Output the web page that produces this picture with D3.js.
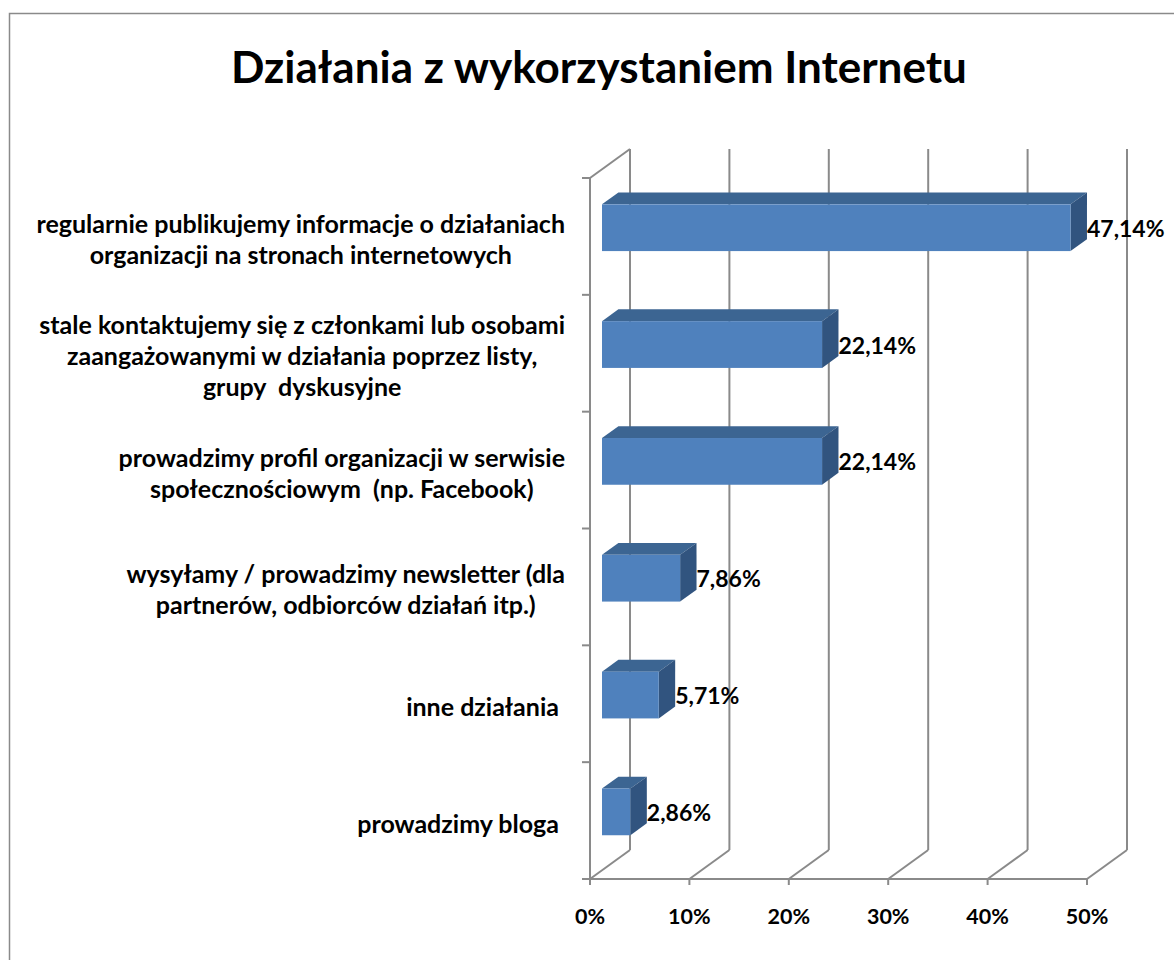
<!DOCTYPE html>
<html>
<head>
<meta charset="utf-8">
<script src="https://cdn.jsdelivr.net/npm/d3@7"></script>
<style>
  html, body { margin: 0; padding: 0; background: #fff; }
  svg { display: block; }
  text { font-family: Lato, "Open Sans", sans-serif; font-weight: bold; fill: #000; }
</style>
</head>
<body>
<svg id="chart" width="1174" height="960"></svg>
<script>
// data
const title = "Działania z wykorzystaniem Internetu";
const categories = [
  ["regularnie publikujemy informacje o działaniach", "organizacji na stronach internetowych"],
  ["stale kontaktujemy się z członkami lub osobami", "zaangażowanymi w działania poprzez listy,", "grupy  dyskusyjne"],
  ["prowadzimy profil organizacji w serwisie", "społecznościowym  (np. Facebook)"],
  ["wysyłamy / prowadzimy newsletter (dla", "partnerów, odbiorców działań itp.)"],
  ["inne działania "],
  ["prowadzimy bloga "]
];
const values = [47.14, 22.14, 22.14, 7.86, 5.71, 2.86];
const valueLabels = ["47,14%", "22,14%", "22,14%", "7,86%", "5,71%", "2,86%"];
const xTicks = [0, 10, 20, 30, 40, 50];

const svg = d3.select("#chart");

// frame of the chart area
svg.append("rect")
  .attr("x", 9.5).attr("y", 13.5)
  .attr("width", 1200).attr("height", 1000)
  .attr("fill", "none")
  .attr("stroke", "#8a8a8a")
  .attr("stroke-width", 1.5);

svg.append("text")
  .attr("x", 599).attr("y", 83)
  .attr("text-anchor", "middle")
  .style("font-size", "44px")
  .text(title);

// 3D layout: front plane and depth offset
const depthX = 40, depthY = -29;
const x = d3.scaleLinear().domain([0, 50]).range([590, 1087]);
const idx = d3.range(categories.length);
const y = d3.scaleBand().domain(idx).range([178, 879]).paddingInner(0);
const yTop = 178, yBottom = 879;
const grey = "#8a8a8a";

const grid = svg.append("g").attr("stroke", grey).attr("stroke-width", 2).attr("fill", "none");

// left wall outline
grid.append("line").attr("x1", x(0)).attr("y1", yTop).attr("x2", x(0)).attr("y2", yBottom);
grid.append("line").attr("x1", x(0)).attr("y1", yTop).attr("x2", x(0) + depthX).attr("y2", yTop + depthY);

// back wall verticals and floor diagonals
xTicks.forEach(t => {
  grid.append("line")
    .attr("x1", x(t) + depthX).attr("y1", yTop + depthY)
    .attr("x2", x(t) + depthX).attr("y2", yBottom + depthY);
  grid.append("line")
    .attr("x1", x(t)).attr("y1", yBottom)
    .attr("x2", x(t) + depthX).attr("y2", yBottom + depthY);
  grid.append("line")
    .attr("x1", x(t)).attr("y1", yBottom)
    .attr("x2", x(t)).attr("y2", yBottom + 6);
});
grid.append("line").attr("x1", x(0)).attr("y1", yBottom).attr("x2", x(50)).attr("y2", yBottom);

// category ticks on the left
d3.range(categories.length + 1).forEach(i => {
  const yy = yTop + i * y.bandwidth();
  grid.append("line").attr("x1", x(0) - 8).attr("y1", yy).attr("x2", x(0)).attr("y2", yy);
});

// bars
const d0 = 0.3, d1 = 0.71;
const barH = y.bandwidth() * 0.4;
const bars = svg.append("g");
values.forEach((v, i) => {
  const x0 = x(0) + depthX * d0, x1 = x(v) + depthX * d0;
  const yc = y(i) + y.bandwidth() / 2 + depthY * d0;
  const y0 = yc - barH / 2, y1 = yc + barH / 2;
  const ddx = depthX * (d1 - d0), ddy = depthY * (d1 - d0);
  bars.append("polygon")
    .attr("points", [[x0, y0], [x1, y0], [x1 + ddx, y0 + ddy], [x0 + ddx, y0 + ddy]].join(" "))
    .attr("fill", "#3c6592");
  bars.append("polygon")
    .attr("points", [[x1, y0], [x1 + ddx, y0 + ddy], [x1 + ddx, y1 + ddy], [x1, y1]].join(" "))
    .attr("fill", "#31547f");
  bars.append("rect")
    .attr("x", x0).attr("y", y0)
    .attr("width", x1 - x0).attr("height", barH)
    .attr("fill", "#4f81bd");
  svg.append("text")
    .attr("x", x1 + ddx).attr("y", yc + 9)
    .style("font-size", "23px")
    .text(valueLabels[i]);
});

// x tick labels
xTicks.forEach(t => {
  svg.append("text")
    .attr("x", x(t)).attr("y", 924)
    .attr("text-anchor", "middle")
    .style("font-size", "21.5px")
    .text(t + "%");
});

// category labels: lines centred inside a block aligned to the right
const lineH = 31;
categories.forEach((lines, i) => {
  const g = svg.append("g");
  const texts = lines.map(s => g.append("text")
    .attr("xml:space", "preserve")
    .style("font-size", "25px")
    .style("white-space", "pre")
    .text(s));
  const w = d3.max(texts, t => t.node().getComputedTextLength());
  const right = 565;
  const cy = y(i) + y.bandwidth() / 2 + 4;
  texts.forEach((t, k) => {
    t.attr("x", right - w / 2)
      .attr("text-anchor", "middle")
      .attr("y", cy + (k - (lines.length - 1) / 2) * lineH + 8);
  });
});
</script>
</body>
</html>
